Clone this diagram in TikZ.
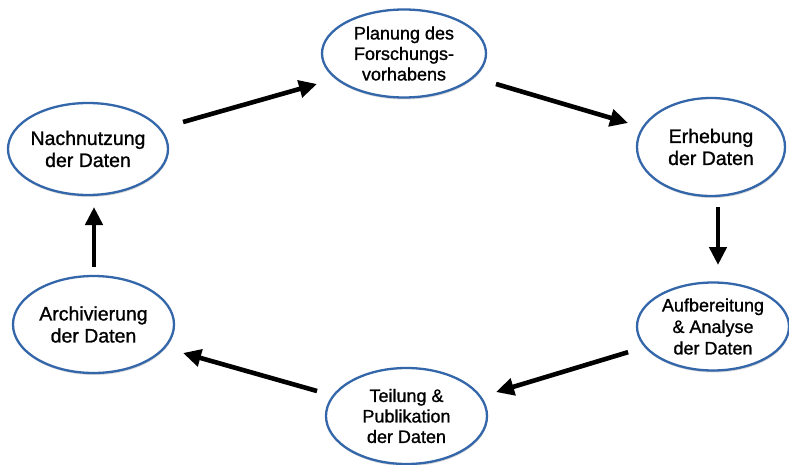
\documentclass[tikz,border=0pt]{standalone}
\usepackage{fontspec}
\setmainfont{Liberation Sans}
\newfontfamily\stagefont{Liberation Sans}[FakeBold=1.1]
\usetikzlibrary{arrows.meta,shapes.geometric,shadows}

\definecolor{ringblue}{HTML}{3466AA}

\tikzset{
  stage/.style={ellipse, draw=ringblue, line width=2.3pt, fill=white, inner sep=-8pt,
    align=center, text=black,
    drop shadow={shadow xshift=0.6pt, shadow yshift=-2pt, opacity=0.15, fill=black}},
  bigtext/.style={font=\stagefont\fontsize{19.5}{22}\selectfont},
  smalltext/.style={font=\stagefont\fontsize{18}{20.5}\selectfont},
  flow/.style={line width=4.6pt, -{Triangle[length=18pt,width=17pt]}}
}

\begin{document}
\begin{tikzpicture}[x=1pt, y=-1pt]
  \useasboundingbox[fill=white] (0,0) rectangle (789,465);

  % the six stages of the data life cycle
  \node[stage, smalltext, minimum width=164pt, minimum height=88pt] (plan) at (404,53.5)
    {Planung des\\Forschungs-\\vorhabens};
  \node[stage, bigtext, minimum width=148pt, minimum height=98pt] (erh) at (711,147)
    {Erhebung\\der Daten};
  \node[stage, font=\stagefont\fontsize{18}{21.5}\selectfont,
        minimum width=152pt, minimum height=88pt] (auf) at (713,326.5)
    {Aufbereitung\\\& Analyse\\der Daten};
  \node[stage, smalltext, minimum width=161pt, minimum height=96pt] (teil) at (406.5,416)
    {Teilung \&\\Publikation\\der Daten};
  \node[stage, bigtext, minimum width=161pt, minimum height=97pt] (arch) at (93.5,324.5)
    {Archivierung\\der Daten};
  \node[stage, bigtext, minimum width=160pt, minimum height=92pt] (nach) at (88,149)
    {Nachnutzung\\der Daten};

  % arrows between consecutive stages
  \draw[flow, shorten <=98.8pt, shorten >=90.4pt]
    (nach.center) -- ([yshift=-5.8pt]plan.center);
  \draw[flow, shorten <=95.9pt, shorten >=86.5pt]
    ([yshift=-3.3pt]plan.center) -- ([yshift=-0.5pt]erh.center);
  \draw[flow, shorten <=60pt, shorten >=61.5pt]
    ([xshift=7pt]erh.center) -- ([xshift=5pt]auf.center);
  \draw[flow, shorten <=88.7pt, shorten >=93.5pt]
    (auf.center) -- ([yshift=-3.1pt]teil.center);
  \draw[flow, shorten <=93pt, shorten >=93pt]
    ([yshift=-0.4pt]teil.center) -- ([yshift=-3.1pt]arch.center);
  \draw[flow, shorten <=57.5pt, shorten >=58pt]
    ([xshift=0.5pt]arch.center) -- ([xshift=6pt]nach.center);
\end{tikzpicture}
\end{document}
